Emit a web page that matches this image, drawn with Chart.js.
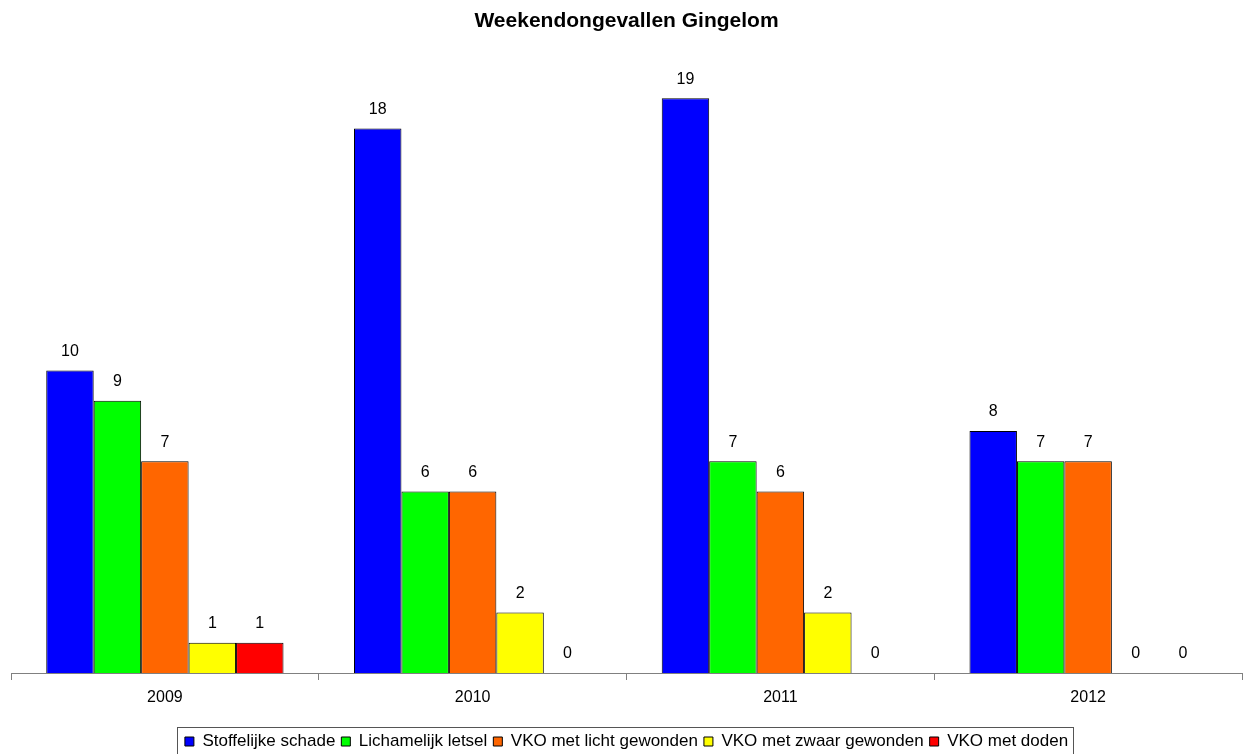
<!DOCTYPE html>
<html>
<head>
<meta charset="utf-8">
<script src="https://cdn.jsdelivr.net/npm/chart.js@4.4.1/dist/chart.umd.min.js"></script>
<style>
html,body{margin:0;padding:0;background:#fff;}
#wrap{width:1247px;height:754px;position:relative;}
</style>
</head>
<body>
<div id="wrap"><canvas id="c" width="1247" height="754"></canvas></div>
<script>
const titleText = 'Weekendongevallen Gingelom';
const categories = ['2009', '2010', '2011', '2012'];
const seriesNames = ['Stoffelijke schade', 'Lichamelijk letsel', 'VKO met licht gewonden', 'VKO met zwaar gewonden', 'VKO met doden'];
const stoffelijkeSchade = [10, 18, 19, 8];
const lichamelijkLetsel = [9, 6, 7, 7];
const vkoLichtGewonden = [7, 6, 6, 7];
const vkoZwaarGewonden = [1, 2, 2, 0];
const vkoDoden = [1, 0, 0, 0];
const seriesColors = ['#0000FF', '#00FF00', '#FF6600', '#FFFF00', '#FF0000'];

const seriesValues = [stoffelijkeSchade, lichamelijkLetsel, vkoLichtGewonden, vkoZwaarGewonden, vkoDoden];
const FONT = '"Liberation Sans", Arial, sans-serif';

const valueLabels = {
  id: 'valueLabels',
  afterDatasetsDraw(chart) {
    const ctx = chart.ctx;
    ctx.save();
    ctx.font = '16px ' + FONT;
    ctx.fillStyle = '#000';
    ctx.textAlign = 'center';
    ctx.textBaseline = 'middle';
    chart.data.datasets.forEach((ds, i) => {
      const meta = chart.getDatasetMeta(i);
      meta.data.forEach((bar, j) => {
        ctx.fillText(String(ds.data[j]), bar.x, bar.y - 19);
      });
    });
    ctx.restore();
  }
};

const legendBorder = {
  id: 'legendBorder',
  afterDraw(chart) {
    const lg = chart.legend;
    if (!lg || !lg.legendHitBoxes || !lg.legendHitBoxes.length) return;
    let l = Infinity, r = -Infinity, t = Infinity;
    lg.legendHitBoxes.forEach(h => {
      l = Math.min(l, h.left); r = Math.max(r, h.left + h.width);
      t = Math.min(t, h.top);
    });
    const ctx = chart.ctx;
    ctx.save();
    ctx.strokeStyle = '#555';
    ctx.lineWidth = 1;
    const x0 = Math.round(l - 8) + 0.5, y0 = Math.round(t - 6) + 0.5;
    ctx.strokeRect(x0, y0, Math.round(r + 5) - Math.round(l - 8), 40);
    ctx.restore();
  }
};

new Chart(document.getElementById('c'), {
  type: 'bar',
  data: {
    labels: categories,
    datasets: seriesNames.map((name, i) => ({
      label: name,
      data: seriesValues[i],
      backgroundColor: seriesColors[i],
      borderColor: '#000',
      borderWidth: 1,
      borderSkipped: 'bottom',
      barPercentage: 1.0,
      categoryPercentage: 0.771
    }))
  },
  options: {
    responsive: false,
    animation: false,
    devicePixelRatio: 1,
    layout: { padding: { left: 11, right: 5, top: 0, bottom: -6 } },
    plugins: {
      title: {
        display: true,
        text: titleText,
        color: '#000',
        font: { family: FONT, size: 21, weight: 'bold' },
        padding: { top: 8.4, bottom: 34.4 }
      },
      legend: {
        display: true,
        position: 'bottom',
        labels: {
          color: '#000',
          font: { family: FONT, size: 17 },
          boxWidth: 9,
          boxHeight: 9,
          padding: 6,
          generateLabels(chart) {
            return chart.data.datasets.map((ds, i) => ({
              text: ds.label,
              fillStyle: ds.backgroundColor,
              strokeStyle: '#000',
              lineWidth: 1,
              hidden: false,
              datasetIndex: i,
              fontColor: '#000'
            }));
          }
        }
      },
      tooltip: { enabled: false }
    },
    scales: {
      x: {
        offset: true,
        afterFit(scale) { scale.height += 11.8; },
        grid: {
          display: true,
          drawOnChartArea: false,
          drawTicks: true,
          tickLength: 7,
          color: '#808080',
          offset: true
        },
        border: { display: true, color: '#808080', width: 1 },
        ticks: {
          color: '#000',
          font: { family: FONT, size: 16 },
          padding: 8
        }
      },
      y: {
        display: false,
        min: 0,
        max: 20
      }
    }
  },
  plugins: [valueLabels, legendBorder]
});
</script>
</body>
</html>
